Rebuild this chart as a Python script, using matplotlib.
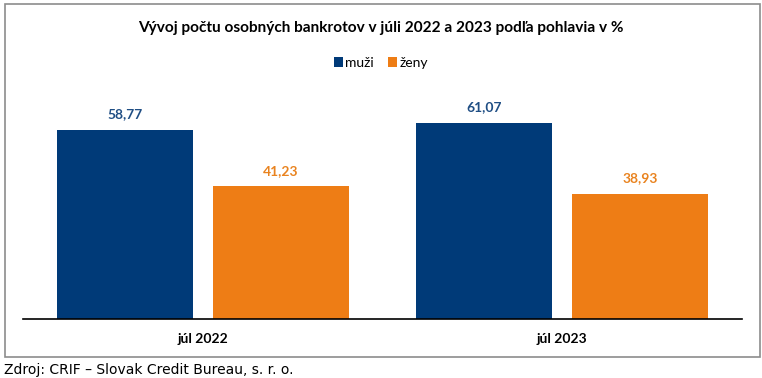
import matplotlib.pyplot as plt
from matplotlib.patches import Rectangle
import numpy as np

categories = ["júl 2022", "júl 2023"]
muzi = [58.77, 61.07]
zeny = [41.23, 38.93]
series_names = ["muži", "ženy"]

BLUE = "#003A78"
ORANGE = "#EE7D15"
BLUE_TXT = "#1F4E84"
ORANGE_TXT = "#E9831F"
LABEL_FONT = "Lato"

fig = plt.figure(figsize=(7.62, 3.78), dpi=100)
ax = fig.add_axes([23 / 762, 1 - 319 / 378, 719 / 762, 225 / 378])

x = np.arange(len(categories))
w = 0.378
off = 0.217
b1 = ax.bar(x - off, muzi, w, color=BLUE, label=series_names[0])
b2 = ax.bar(x + off, zeny, w, color=ORANGE, label=series_names[1])

for bars, vals, col in [(b1, muzi, BLUE_TXT), (b2, zeny, ORANGE_TXT)]:
    for b, v in zip(bars, vals):
        ax.annotate(f"{v:.2f}".replace(".", ","), (b.get_x() + b.get_width() / 2, v),
                    xytext=(0, 7), textcoords="offset points", ha="center", va="bottom",
                    fontsize=10, fontweight="bold", color=col, family=LABEL_FONT)

ax.set_xlim(-0.5, 1.5)
ax.set_ylim(0, 70)
ax.set_yticks([])
ax.set_xticks(x)
ax.set_xticklabels(categories, fontsize=10, fontweight="bold", family=LABEL_FONT)
ax.tick_params(axis="x", length=0, pad=10)
for s in ["top", "right", "left"]:
    ax.spines[s].set_visible(False)
ax.spines["bottom"].set_linewidth(1.2)

fig.text(0.5, 1 - 28 / 378, "Vývoj počtu osobných bankrotov v júli 2022 a 2023 podľa pohlavia v %",
         ha="center", va="center", fontsize=11.1, fontweight="bold", family=LABEL_FONT)
fig.legend(loc="center", bbox_to_anchor=(0.5, 1 - 63 / 378), ncol=2, frameon=False,
           prop={"family": LABEL_FONT, "size": 10}, handlelength=0.65, handleheight=0.65,
           handletextpad=0.2, columnspacing=1.0)

fig.patches.append(Rectangle((5 / 762, 1 - 357 / 378), 755 / 762, 353 / 378,
                             transform=fig.transFigure, fill=False, edgecolor="#8c8c8c", linewidth=1.2))
fig.text(4 / 762, 1 - 370 / 378, "Zdroj: CRIF – Slovak Credit Bureau, s. r. o.",
         ha="left", va="center", fontsize=10, family="DejaVu Sans")

fig.savefig("out.png", dpi=100)
